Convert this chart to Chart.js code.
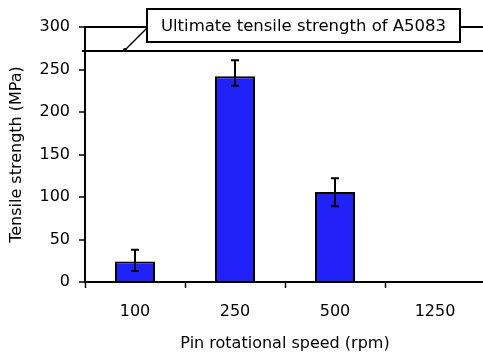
<!DOCTYPE html>
<html>
<head>
<meta charset="utf-8">
<script src="https://cdn.jsdelivr.net/npm/chart.js@4.4.0/dist/chart.umd.min.js"></script>
<style>
  html, body { margin: 0; padding: 0; background: #fff; overflow: hidden; }
  #wrap { width: 500px; height: 353px; }
</style>
</head>
<body>
<div id="wrap"><canvas id="canvas" width="500" height="353"></canvas></div>
<script>
var speeds = ['100', '250', '500', '1250'];
var strength = [24, 242, 106, 0];
var errLow = [13, 231, 89, null];
var errHigh = [38, 261, 122, null];
var yTicks = [0, 50, 100, 150, 200, 250, 300];
var utsValue = 272;
var utsLabel = 'Ultimate tensile strength of A5083';

var font = 'DejaVu Sans, Arial, sans-serif';

// error bars, drawn through the chart scales
var errorBars = {
  id: 'errorBars',
  afterDatasetsDraw(chart) {
    var ctx = chart.ctx, x = chart.scales.x, y = chart.scales.y;
    ctx.save();
    ctx.strokeStyle = '#000';
    ctx.lineWidth = 2;
    strength.forEach(function (v, i) {
      if (errLow[i] == null) return;
      var px = x.getPixelForValue(i);
      var lo = y.getPixelForValue(errLow[i]);
      var hi = y.getPixelForValue(errHigh[i]);
      ctx.beginPath();
      ctx.moveTo(px, lo); ctx.lineTo(px, hi);
      ctx.moveTo(px - 4, lo); ctx.lineTo(px + 4, lo);
      ctx.moveTo(px - 4, hi); ctx.lineTo(px + 4, hi);
      ctx.stroke();
    });
    ctx.restore();
  }
};

// UTS reference line with callout box
var utsLine = {
  id: 'utsLine',
  afterDraw(chart) {
    var ctx = chart.ctx, x = chart.scales.x, y = chart.scales.y;
    var area = chart.chartArea;
    var py = Math.round(y.getPixelForValue(utsValue));
    ctx.save();
    ctx.strokeStyle = '#000';
    ctx.lineWidth = 2;
    ctx.beginPath();
    ctx.moveTo(area.left - 3, py);
    ctx.lineTo(chart.width, py);
    ctx.stroke();

    // leader line
    var endX = x.getPixelForValue(0) - 10;
    var boxL = 147, boxT = 9, boxW = 313, boxH = 33;
    ctx.lineWidth = 1.5;
    ctx.beginPath();
    ctx.moveTo(boxL, boxT + 19);
    ctx.lineTo(endX, py - 1);
    ctx.stroke();
    ctx.fillStyle = '#000';
    ctx.beginPath();
    ctx.arc(endX, py - 1, 2, 0, Math.PI * 2);
    ctx.fill();

    // box
    ctx.fillStyle = '#fff';
    ctx.fillRect(boxL, boxT, boxW, boxH);
    ctx.lineWidth = 2;
    ctx.strokeRect(boxL, boxT, boxW, boxH);
    ctx.fillStyle = '#000';
    ctx.font = '16.5px ' + font;
    ctx.textAlign = 'center';
    ctx.textBaseline = 'middle';
    ctx.fillText(utsLabel, boxL + boxW / 2, boxT + boxH / 2 + 1);
    ctx.restore();
  }
};

new Chart(document.getElementById('canvas').getContext('2d'), {
  type: 'bar',
  data: {
    labels: speeds,
    datasets: [{
      data: strength,
      backgroundColor: '#2121fa',
      borderColor: '#000',
      borderWidth: 2,
      categoryPercentage: 1,
      barPercentage: 0.4
    }]
  },
  options: {
    responsive: false,
    animation: false,
    layout: { padding: { top: 27, right: 15 } },
    plugins: { legend: { display: false }, tooltip: { enabled: false } },
    scales: {
      x: {
        grid: { offset: true, drawOnChartArea: false, tickLength: 6, tickColor: '#000', tickWidth: 1.5 },
        border: { color: '#000', width: 2 },
        ticks: { color: '#000', font: { family: font, size: 16 }, padding: 14 },
        title: { display: true, text: 'Pin rotational speed (rpm)', color: '#000', font: { family: font, size: 16 }, padding: { top: 4, bottom: 0 } },
        afterFit(s) { s.height = 71; }
      },
      y: {
        min: 0, max: 300,
        afterBuildTicks(s) { s.ticks = yTicks.map(function (v) { return { value: v }; }); },
        grid: {
          color: function (c) { return c.tick && c.tick.value === 300 ? '#000' : 'rgba(0,0,0,0)'; },
          lineWidth: 2,
          tickColor: '#000',
          tickWidth: 1.5,
          tickLength: 6
        },
        border: { color: '#000', width: 2 },
        ticks: { color: '#000', font: { family: font, size: 16 }, padding: 9 },
        title: { display: true, text: 'Tensile strength (MPa)', color: '#000', font: { family: font, size: 16 }, padding: { top: 7, bottom: 4 } },
        afterFit(s) { s.width = 85; }
      }
    }
  },
  plugins: [errorBars, utsLine]
});
</script>
</body>
</html>
